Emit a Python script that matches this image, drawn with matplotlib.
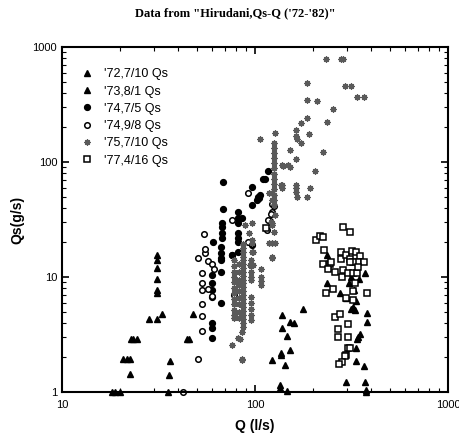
import numpy as np
import matplotlib
matplotlib.use("Agg")
import matplotlib.pyplot as plt

plt.rcParams['font.family'] = ['Liberation Sans', 'DejaVu Sans']

# '72,7/10 Qs  (left group of triangles)
q72 = [31.0, 31.0, 31.0, 31.0, 31.0, 31.0, 28.3, 31.0, 33.1, 22.7, 23.4, 24.4,
       20.8, 21.6, 22.5, 22.5, 18.1, 18.8, 19.9, 36.3, 36.0, 35.5, 44.3, 45.7, 47.9]
qs72 = [15.5, 14.0, 11.9, 9.6, 7.7, 7.3, 4.3, 4.3, 4.8, 2.9, 2.9, 2.9,
        1.92, 1.92, 1.92, 1.43, 1.0, 1.0, 1.0, 1.87, 1.42, 1.0, 2.9, 2.9, 4.8]

# '73,8/1 Qs  (right group of triangles)
q73 = [138, 178, 138, 152, 159, 147, 152, 137, 137, 122, 143, 135, 135, 147,
       236, 235, 275, 297, 306, 316, 325, 333, 322, 316, 330, 371, 346, 380,
       380, 349, 340, 336, 333, 333, 366, 297, 371, 376, 376]
qs73 = [4.7, 5.3, 3.6, 4.1, 4.0, 3.07, 2.3, 2.17, 2.1, 1.9, 1.72, 1.15, 1.08, 1.03,
        15.7, 8.8, 7.2, 6.6, 8.8, 10.0, 7.7, 6.2, 5.5, 5.3, 5.2, 10.8, 9.6, 4.9,
        4.1, 3.2, 3.0, 2.87, 2.4, 1.87, 1.69, 1.23, 1.23, 1.04, 1.0]

# '74,7/5 Qs  (filled circles)
q74a = [60.1, 60.1, 60.1, 60.1, 60.1, 60.1, 60.1, 60.6, 66.7, 66.7, 66.7, 66.7,
        66.7, 66.7, 68.5, 67.2, 67.2, 67.2, 67.2, 81.6, 81.6, 81.6, 81.6, 81.6,
        81.6, 81.6, 76.2, 96.2, 68.5, 117, 110, 113, 96, 105, 102, 86, 96, 75.6,
        103.6, 106]
qs74a = [3.96, 3.58, 2.96, 8.8, 7.7, 6.7, 10.4, 20.3, 18.3, 16.3, 14.5, 14.1,
         11.1, 5.9, 38.8, 29.3, 27.4, 24.0, 21.9, 37, 32.5, 29.3, 24.0, 21.7,
         20.3, 16.6, 15.5, 42.4, 66.6, 84, 71, 71, 61, 49, 46.8, 32.6, 19, 15.5,
         50, 52]

# '74,9/8 Qs  (open circles)
q74b = [50.5, 42.5, 53.3, 53.3, 53.3, 52.9, 52.9, 53.3, 50.9, 55, 55, 54.6,
        57.3, 59.6, 61.5, 57.3, 59.6, 76.2, 92.2, 116, 119, 122, 92, 122, 126,
        121, 117, 78.3]
qs74b = [1.94, 1.0, 3.39, 4.58, 5.8, 7.7, 8.8, 10.8, 14.5, 16.1, 17.4, 23.5,
         13.8, 13.1, 11.7, 7.9, 6.8, 31.3, 54, 25.6, 30.6, 36.8, 20.3, 42.9, 41.7,
         35.4, 31.3, 7.0]

# '75,7/10 Qs  (grey asterisks)
q75 = [232, 279, 287, 185, 293, 313, 336, 367, 185, 210, 255, 185, 173, 235,
       127, 163, 163, 165, 173, 191, 106, 152, 163, 224, 139, 152, 204, 137,
       163, 163, 163, 193, 165, 185, 118,
       126, 126, 126, 126, 126, 126, 126, 126, 126, 126, 126, 126, 126,
       138, 149, 138, 138, 123, 123, 122, 125, 118, 122, 127, 122,
       96.5, 88.4, 93, 96.5, 96.5, 96.5, 97.3, 108, 107, 107, 107,
       121, 127, 122, 122, 94, 98,
       85.6, 82, 76, 77.5, 85.3, 83.6, 86,
       87, 87, 87, 87, 87, 87, 87, 87, 87, 87, 87, 87, 87, 87, 87, 87, 87,
       87, 87, 87, 87, 87,
       78, 78, 78, 78, 78, 78, 78, 78, 78, 78, 78,
       83, 83, 83, 83, 83, 83, 83, 83, 83,
       95, 95, 95, 95, 95, 95, 95, 95, 95, 95]
qs75 = [782, 782, 782, 483, 458, 458, 365, 365, 346, 339, 287, 240, 220, 225,
        180, 189, 169, 158, 146, 177, 158, 127, 106, 122, 92, 91, 84, 63,
        63, 59, 55, 60, 50, 50, 54,
        146, 132, 120, 108, 98, 88, 79, 71, 64, 58, 52, 47, 42,
        94, 94, 63, 59, 54, 47, 29.5, 24.8, 19.9, 19.9, 19.9, 15,
        29.6, 28.2, 24, 21.2, 19.9, 16.6, 12.7, 11.7, 10.1, 9.3, 8.5,
        30.4, 34.4, 28.3, 14.5, 12.7, 16.6,
        3.34, 2.93, 2.56, 4.4, 1.92, 2.87, 1.9,
        19.5, 18, 16.5, 15, 14, 13, 12, 11, 10.2, 9.5, 8.8, 8.2, 7.6, 7.0,
        6.5, 6.0, 5.5, 5.1, 4.7, 4.3, 4.0, 3.7,
        14, 12.5, 11, 10, 9, 8, 7.2, 6.5, 5.8, 5.2, 4.7,
        13, 11, 9.5, 8.5, 7.5, 6.6, 5.8, 5.0, 4.4,
        14, 12.5, 11, 10, 9.4, 6.7, 6.0, 5.3, 4.7, 4.2]

# '77,4/16 Qs  (open squares)
q77 = [287, 310, 208, 216, 224, 228, 224, 244, 239, 249, 260, 278, 278, 297,
       310, 320, 333, 349, 342, 367, 322, 310, 287, 281, 303, 322, 339, 330,
       342, 232, 255, 379, 297, 322, 322, 260, 275, 270, 303, 270, 303, 303,
       310, 297, 293, 281, 273, 114]
qs77 = [27.4, 24.8, 21, 22.7, 22.4, 17.1, 13.1, 13.1, 11.7, 13.6, 11, 16.4, 14.3,
        15.5, 14.3, 16.9, 16.4, 15.3, 13.6, 13.4, 13.5, 13.4, 11.5, 10.1, 10.8,
        10.8, 10.8, 8.8, 12.3, 7.3, 7.8, 7.3, 6.6, 7.5, 6.3, 4.5, 4.8, 3.5, 3.9,
        3.0, 3.0, 2.4, 2.4, 2.1, 2.06, 1.83, 1.75, 26.5]

fig = plt.figure(figsize=(4.59, 4.44), dpi=100)
ax = fig.add_axes([0.135, 0.117, 0.841, 0.777])

ax.plot(q72, qs72, ls='none', marker='^', ms=4.2, color='black', label="'72,7/10 Qs", clip_on=False)
ax.plot(q73, qs73, ls='none', marker='^', ms=4.2, color='black', label="'73,8/1 Qs", clip_on=False)
ax.plot(q74a, qs74a, ls='none', marker='o', ms=4.2, color='black', label="'74,7/5 Qs")
ax.plot(q74b, qs74b, ls='none', marker='o', ms=4.0, mfc='white', mec='black', mew=1.1,
        label="'74,9/8 Qs", clip_on=False)
ax.plot(q75, qs75, ls='none', marker=(8, 2, 0), ms=4.5, mew=0.9, color='#5a5a5a',
        label="'75,7/10 Qs")
ax.plot(q77, qs77, ls='none', marker='s', ms=4.0, mfc='white', mec='black', mew=1.1,
        label="'77,4/16 Qs")

ax.set_xscale('log')
ax.set_yscale('log')
ax.set_xlim(10, 1000)
ax.set_ylim(1, 1000)
ax.set_xticks([10, 100, 1000])
ax.set_xticklabels(['10', '100', '1000'])
ax.set_yticks([1, 10, 100, 1000])
ax.set_yticklabels(['1', '10', '100', '1000'])
ax.tick_params(which='both', direction='in', top=True, right=True, labelsize=8)
ax.tick_params(which='major', length=5, width=1.2)
ax.tick_params(which='minor', length=3, width=0.8)
ax.tick_params(axis='x', pad=6)
for s in ax.spines.values():
    s.set_linewidth(1.5)

ax.set_xlabel('Q (l/s)', fontsize=10, fontweight='bold', labelpad=6)
ax.set_ylabel('Qs(g/s)', fontsize=10, fontweight='bold', labelpad=6)

fig.text(0.512, 0.97, 'Data from "Hirudani,Qs-Q (\'72-\'82)"', ha='center', va='center',
         fontsize=9, fontweight='bold', family='Liberation Serif')

ax.legend(loc='upper left', bbox_to_anchor=(0.03, 0.96), frameon=False, fontsize=9,
          numpoints=1, handlelength=1.0, handletextpad=0.8, labelspacing=0.42,
          borderaxespad=0.2)

fig.savefig('out.png', dpi=100)
